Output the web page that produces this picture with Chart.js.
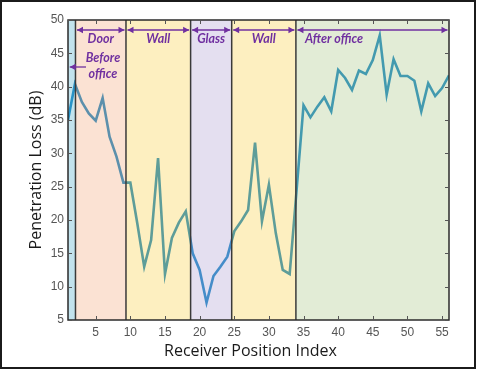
<!DOCTYPE html>
<html><head><meta charset="utf-8">
<script src="https://cdn.jsdelivr.net/npm/chart.js@4.4.1/dist/chart.umd.min.js"></script>
<style>
html,body{margin:0;padding:0;background:#fff;}
#wrap{position:relative;width:480px;height:370px;}
#frame{position:absolute;left:0;top:0;width:476px;height:369px;border:2.5px solid #1b1b1b;box-sizing:border-box;pointer-events:none;}
</style></head><body>
<div id="wrap"><canvas id="c" width="480" height="370"></canvas><div id="frame"></div></div>
<script>
// ---- data ----
const positions = [1,2,3,4,5,6,7,8,9,10,11,12,13,14,15,16,17,18,19,20,21,22,23,24,25,26,27,28,29,30,31,32,33,34,35,36,37,38,39,40,41,42,43,44,45,46,47,48,49,50,51,52,53,54,55,56];
const lossDb = [35.0,40.4,37.7,36.0,34.9,38.3,32.5,29.5,25.6,25.6,19.5,13.0,17.0,29.3,11.9,17.3,19.6,21.3,15.0,12.5,7.6,11.6,13.0,14.5,18.3,19.8,21.5,31.6,19.8,25.3,18.0,12.5,11.9,24.5,37.2,35.4,37.0,38.4,36.3,42.5,41.3,39.5,42.4,41.9,44.0,47.7,38.8,44.1,41.6,41.6,40.9,36.3,40.5,38.6,39.8,41.7];
const xTickLabels = [5,10,15,20,25,30,35,40,45,50,55];
const yTickLabels = [5,10,15,20,25,30,35,40,45,50];
const regionEdges = [1, 2.08, 9.37, 18.7, 24.63, 33.9, 56];
const regionNames = ['', 'Door', 'Wall', 'Glass', 'Wall', 'After office'];
const regionColors = ['rgba(90,178,205,0.37)','rgba(244,172,129,0.35)','rgba(249,209,75,0.35)','rgba(178,164,212,0.35)','rgba(249,209,75,0.35)','rgba(172,201,138,0.35)'];
const xTitle = 'Receiver Position Index';
const yTitle = 'Penetration Loss (dB)';

const PURPLE = '#7030a0';
const ANN_FONT = 'italic bold 12.5px Lato';

function arrowHead(ctx, x, y, dir) {
  ctx.beginPath();
  ctx.moveTo(x, y);
  ctx.lineTo(x - dir*6, y - 3.2);
  ctx.lineTo(x - dir*6, y + 3.2);
  ctx.closePath();
  ctx.fill();
}

const regionsPlugin = {
  id: 'regions',
  afterDatasetsDraw(chart) {
    const {ctx, chartArea: a, scales: {x}} = chart;
    ctx.save();
    for (let i = 0; i < regionColors.length; i++) {
      const x1 = x.getPixelForValue(regionEdges[i]);
      const x2 = x.getPixelForValue(regionEdges[i+1]);
      ctx.fillStyle = regionColors[i];
      ctx.fillRect(x1, a.top, x2 - x1, a.bottom - a.top);
    }
    ctx.strokeStyle = '#3a3a3a';
    ctx.lineWidth = 1.5;
    for (let i = 1; i < regionEdges.length - 1; i++) {
      const px = x.getPixelForValue(regionEdges[i]);
      ctx.beginPath(); ctx.moveTo(px, a.top); ctx.lineTo(px, a.bottom); ctx.stroke();
    }
    ctx.restore();
  },
  afterDraw(chart) {
    const {ctx, chartArea: a, scales: {x, y}} = chart;
    ctx.save();
    // box
    ctx.strokeStyle = '#2b2b2b';
    ctx.lineWidth = 1.5;
    ctx.strokeRect(a.left, a.top, a.right - a.left, a.bottom - a.top);
    // inward ticks
    ctx.strokeStyle = '#555';
    ctx.lineWidth = 1;
    xTickLabels.forEach(v => {
      const px = Math.round(x.getPixelForValue(v)) + 0.5;
      ctx.beginPath(); ctx.moveTo(px, a.bottom); ctx.lineTo(px, a.bottom - 4); ctx.stroke();
      ctx.beginPath(); ctx.moveTo(px, a.top); ctx.lineTo(px, a.top + 4); ctx.stroke();
    });
    yTickLabels.forEach(v => {
      const py = Math.round(y.getPixelForValue(v)) + 0.5;
      ctx.beginPath(); ctx.moveTo(a.left, py); ctx.lineTo(a.left + 4, py); ctx.stroke();
      ctx.beginPath(); ctx.moveTo(a.right, py); ctx.lineTo(a.right - 4, py); ctx.stroke();
    });
    // x axis title (offset slightly left of plot centre, as in the reference)
    ctx.fillStyle = '#1a1a1a';
    ctx.font = '16px "Open Sans", sans-serif';
    ctx.textAlign = 'center';
    ctx.textBaseline = 'middle';
    ctx.fillText(xTitle, 250.5, 351);
    // annotation arrows
    ctx.strokeStyle = PURPLE;
    ctx.fillStyle = PURPLE;
    ctx.lineWidth = 1.3;
    const ay = y.getPixelForValue(48.5);
    for (let i = 1; i <= 5; i++) {
      const x1 = x.getPixelForValue(regionEdges[i]) + 1.5;
      const x2 = x.getPixelForValue(regionEdges[i+1]) - 1.5;
      ctx.beginPath(); ctx.moveTo(x1, ay); ctx.lineTo(x2, ay); ctx.stroke();
      arrowHead(ctx, x1, ay, -1);
      arrowHead(ctx, x2, ay, 1);
    }
    // before office arrow
    const by = y.getPixelForValue(42.95);
    const bx1 = x.getPixelForValue(1.25);
    const bx2 = x.getPixelForValue(3.6);
    ctx.beginPath(); ctx.moveTo(bx1, by); ctx.lineTo(bx2, by); ctx.stroke();
    arrowHead(ctx, bx1, by, -1);
    // labels
    ctx.font = ANN_FONT;
    ctx.textBaseline = 'middle';
    const ly = y.getPixelForValue(47.15);
    for (let i = 1; i < 5; i++) {
      ctx.textAlign = 'center';
      const cx = x.getPixelForValue((regionEdges[i] + regionEdges[i+1]) / 2);
      ctx.fillText(regionNames[i], cx, ly);
    }
    ctx.textAlign = 'left';
    ctx.fillText(regionNames[5], x.getPixelForValue(35.2), ly);
    ctx.textAlign = 'center';
    ctx.fillText('Before', x.getPixelForValue(6.05), y.getPixelForValue(44.3));
    ctx.fillText('office', x.getPixelForValue(6.05), y.getPixelForValue(41.9));
    ctx.restore();
  }
};

const tickFont = {family: '"Liberation Sans", Arial, sans-serif', size: 12};
const titleFont = {family: '"Open Sans", sans-serif', size: 16};

new Chart(document.getElementById('c'), {
  type: 'line',
  data: {
    datasets: [{
      data: positions.map((p, i) => ({x: p, y: lossDb[i]})),
      borderColor: 'rgb(12,129,195)',
      borderWidth: 2.6,
      pointRadius: 0,
      tension: 0,
      fill: false
    }]
  },
  options: {
    responsive: false,
    devicePixelRatio: 1,
    animation: false,
    layout: {padding: {top: 20, right: 31, left: 0, bottom: 0}},
    plugins: {legend: {display: false}, tooltip: {enabled: false}},
    scales: {
      x: {
        type: 'linear', min: 1, max: 56,
        grid: {display: false, drawTicks: false},
        border: {display: false},
        afterBuildTicks: s => { s.ticks = xTickLabels.map(v => ({value: v})); },
        afterFit: s => { s.height = 50; },
        ticks: {font: tickFont, color: '#555', padding: 5, maxRotation: 0, autoSkip: false},
        title: {display: false}
      },
      y: {
        min: 5, max: 50,
        grid: {display: false, drawTicks: false},
        border: {display: false},
        afterBuildTicks: s => { s.ticks = yTickLabels.map(v => ({value: v})); },
        afterFit: s => { s.width = 68; },
        ticks: {font: tickFont, color: '#555', padding: 4},
        title: {display: true, text: yTitle, font: titleFont, color: '#1a1a1a', padding: {top: 27, bottom: 0}}
      }
    }
  },
  plugins: [regionsPlugin]
});
</script>
</body></html>
